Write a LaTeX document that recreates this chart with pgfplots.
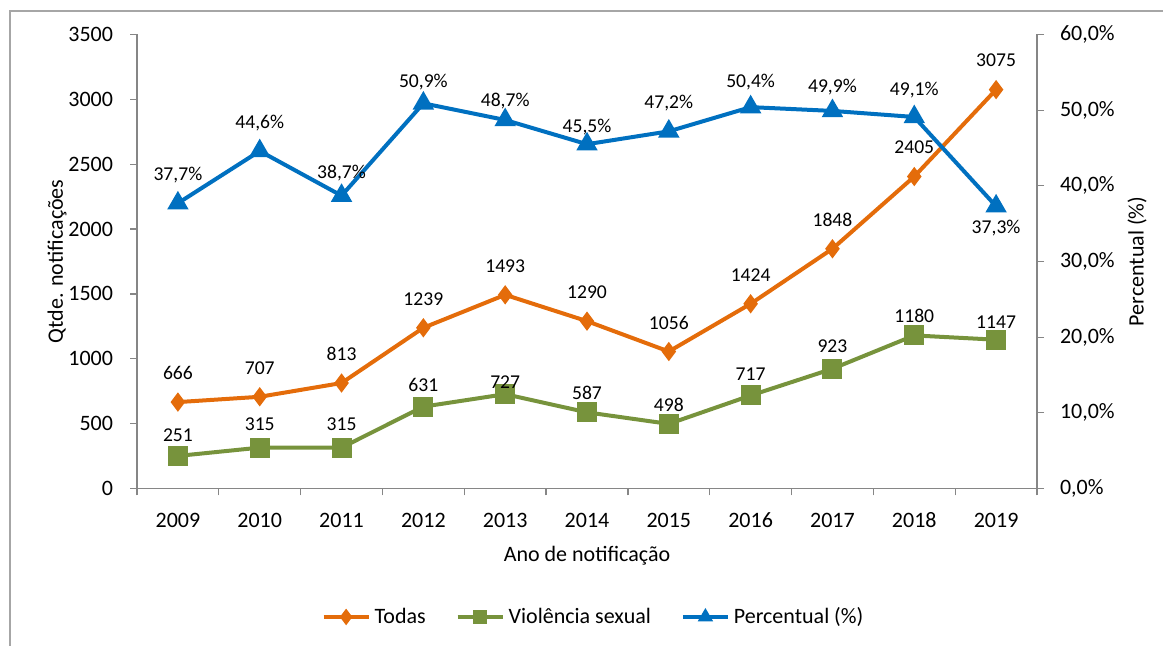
\documentclass[border=0pt]{standalone}
\usepackage{fontspec}
\setmainfont{Carlito}
\usepackage{pgfplots}
\usepackage{pgfplotstable}
\pgfplotsset{compat=1.18}

\definecolor{todas}{HTML}{E46C0A}
\definecolor{sexual}{HTML}{77933C}
\definecolor{perc}{HTML}{0070C0}
\definecolor{axisgray}{HTML}{868686}
\definecolor{framegray}{HTML}{A6A6A6}

% x = year index (2009 -> 0), dy = label offset in px
\pgfplotstableread{
x y lab dy
0 666 666 29
1 707 707 29
2 813 813 29
3 1239 1239 29
4 1493 1493 29
5 1290 1290 29
6 1056 1056 29
7 1424 1424 29
8 1848 1848 29
9 2405 2405 29
10 3075 3075 29
}\todastab

\pgfplotstableread{
x y lab dy
0 251 251 21
1 315 315 23
2 315 315 23
3 631 631 22
4 727 727 12
5 587 587 19
6 498 498 19
7 717 717 21
8 923 923 23
9 1180 1180 20
10 1147 1147 18
}\sexualtab

\pgfplotstableread{
x y lab dy
0 37.7 37,7 28
1 44.6 44,6 28
2 38.7 38,7 23
3 50.9 50,9 21
4 48.7 48,7 19
5 45.5 45,5 17
6 47.2 47,2 28
7 50.4 50,4 25
8 49.9 49,9 24
9 49.1 49,1 27
10 37.3 37,3 -22
}\perctab

\pgfplotsset{
  base/.style={
    scale only axis, width=450pt, height=227pt,
    at={(68.5pt,78.75pt)}, anchor=south west,
    xmin=-0.5, xmax=10.5, clip=false,
    axis line style={draw=axisgray, line width=0.6pt, -},
    tick style={draw=axisgray, line width=0.6pt},
    tick align=outside, major tick length=3.5pt, minor tick length=3.5pt,
    /pgf/number format/assume math mode=true,
    /pgf/number format/1000 sep={},
    ticklabel style={font=\fontsize{11}{13}\selectfont},
    label style={font=\fontsize{11}{13}\selectfont},
    line width=2pt,
    point meta=explicit symbolic,
    visualization depends on={\thisrow{dy} \as \dy},
    nodes near coords,
    every node near coord/.append style={anchor=center, yshift=\dy*0.5pt,
      font=\fontsize{9.8}{11}\selectfont, text=black, inner sep=0pt},
  },
  legend image code/.code={
    \draw[mark repeat=2, mark phase=2, #1]
      plot coordinates {(0pt,0pt) (11.25pt,0pt) (22.5pt,0pt)};
  },
  every legend image post/.style={mark size=2.5pt},
  todasstyle/.style={color=todas, mark=diamond*, mark size=3.2pt, line width=2pt},
  sexualstyle/.style={color=sexual, mark=square*, mark size=4pt, line width=2pt},
  percstyle/.style={color=perc, mark=triangle*, mark size=4.2pt, line width=2pt},
}

\begin{document}
\begin{tikzpicture}
\useasboundingbox (0,0) rectangle (581.5pt,323pt);

\begin{axis}[
  base,
  axis x line*=bottom, axis y line*=left,
  ymin=0, ymax=3500,
  ytick={0,500,...,3500},
  xtick={0,...,10},
  xticklabels={2009,2010,2011,2012,2013,2014,2015,2016,2017,2018,2019},
  major x tick style={draw=none},
  minor xtick={-0.5,0.5,...,10.5},
  minor x tick style={draw=axisgray, line width=0.6pt},
  xticklabel style={anchor=center, yshift=-12.25pt},
  yticklabel style={anchor=east, inner sep=0pt, xshift=-7.5pt},
  xlabel={Ano de notificação},
  xlabel style={at={(axis description cs:0.5,-0.1487)}, anchor=center},
  ylabel={Qtde. notificações},
  ylabel style={at={(axis description cs:-0.0889,0.5)}, anchor=center},
]
\addplot[todasstyle] table[x=x, y=y, meta=lab] {\todastab};
\addplot[sexualstyle] table[x=x, y=y, meta=lab] {\sexualtab};
\end{axis}

\begin{axis}[
  base,
  axis x line=none, axis y line*=right,
  ymin=0, ymax=60,
  ytick={0,10,...,60},
  yticklabels={{0,0\%},{10,0\%},{20,0\%},{30,0\%},{40,0\%},{50,0\%},{60,0\%}},
  yticklabel style={anchor=west, inner sep=0pt, xshift=7pt},
  ylabel={Percentual (\%)},
  ylabel style={at={(axis description cs:1.1111,0.5)}, anchor=center},
  legend columns=3,
  legend style={draw=none, fill=none, at={(0.5083,-0.283)}, anchor=center,
    font=\fontsize{11}{13}\selectfont,
    /tikz/every even column/.append style={column sep=13pt}},
  legend cell align=left,
]
\addlegendimage{todasstyle}
\addlegendentry{Todas}
\addlegendimage{sexualstyle}
\addlegendentry{Violência sexual}
\addplot[percstyle, nodes near coords={\pgfplotspointmeta\%}] table[x=x, y=y, meta=lab] {\perctab};
\addlegendentry{Percentual (\%)}
\end{axis}

\draw[framegray, line width=1pt] (5pt,0pt) -- (5pt,317.5pt) -- (581.5pt,317.5pt);
\end{tikzpicture}
\end{document}
